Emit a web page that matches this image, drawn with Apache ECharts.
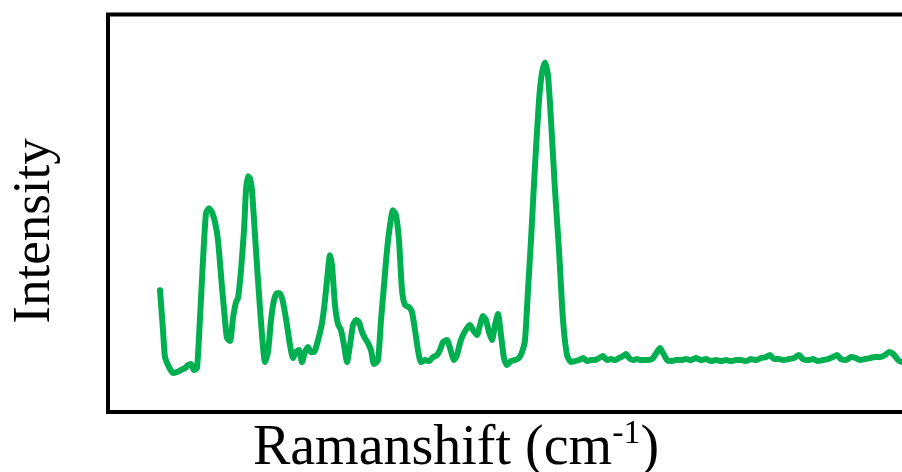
<!DOCTYPE html>
<html>
<head>
<meta charset="utf-8">
<script src="https://cdn.jsdelivr.net/npm/echarts@6/dist/echarts.min.js"></script>
<style>html,body{margin:0;padding:0;background:#fff;}#c{width:902px;height:472px;}</style>
</head>
<body>
<div id="c"></div>
<script>
// Raman shift (arbitrary units, no tick labels in the reference)
var shift = [160,163,165,169,173,177,181,185,188,191,194,197,200,203,206,209,212,215,218,222,225,227,230,233,236,238,241,244,246,248,250,252,255,258,262,265,268,271,274,277,280,283,287,290,293,296,299,302,305,308,311,314,318,322,325,328,330,332,335,338,341,344,347,350,353,356,359,362,365,368,371,374,378,381,384,387,390,393,396,399,402,405,409,412,415,418,421,425,429,433,437,440,443,447,450,454,457,460,463,467,470,473,477,480,483,486,489,492,495,498,501,504,507,511,515,519,522,525,528,531,535,539,542,545,548,551,555,559,563,567,571,575,579,583,587,591,595,599,603,607,611,615,619,623,626,629,633,637,641,645,649,653,657,660,663,667,671,676,681,686,691,696,701,706,711,716,721,726,731,736,741,746,751,756,761,766,770,774,779,784,789,794,799,803,808,813,818,823,828,833,837,841,846,851,856,860,865,870,875,880,885,889,892,895,898,902,910];
// Intensity (arbitrary units)
var intensity = [122,82,55,45,39,40,42,44,47,48,42,44,94,152,199,204,200,190,172,125,92,74,71,94,110,114,142,182,222,236,234,222,177,132,77,50,60,92,112,119,119,110,87,67,54,60,62,50,60,65,60,60,72,89,112,142,157,147,107,88,82,67,50,67,87,92,90,80,74,69,62,48,52,92,127,162,187,202,197,172,122,107,105,100,82,62,50,52,51,55,57,62,70,72,64,52,57,69,77,84,87,82,77,87,96,92,80,72,87,98,77,54,47,51,52,54,60,72,122,172,247,312,340,350,337,292,222,162,92,57,50,51,52,54,51,52,52,54,56,52,53,52,54,56,58,54,52,53,52,52,52,54,60,64,59,52,51,52,52,53,52,54,52,53,51,52,51,52,51,52,52,51,53,52,54,55,57,53,53,52,53,54,57,53,52,53,51,52,53,55,57,53,52,55,54,52,53,54,55,55,57,60,59,56,52,50,51];
var xLabel = 'Ramanshift (cm';
var xLabelSup = '-1';
var yLabel = 'Intensity';

var data = shift.map(function(s, i){ return [s, intensity[i]]; });
var chart = echarts.init(document.getElementById('c'));
chart.setOption({
  animation: false,
  backgroundColor: '#fff',
  grid: {left: 108, top: 14.5, width: 820, bottom: 60, outerBoundsMode: 'none', containLabel: false, show: true, borderColor: '#000', borderWidth: 4, backgroundColor: 'transparent'},
  xAxis: {type: 'value', min: 108, max: 928, axisLine: {show: false}, axisTick: {show: false}, axisLabel: {show: false}, splitLine: {show: false}},
  yAxis: {type: 'value', min: 0, max: 398, axisLine: {show: false}, axisTick: {show: false}, axisLabel: {show: false}, splitLine: {show: false}},
  series: [{type: 'line', data: data, showSymbol: false, smooth: 0.2, clip: true,
    lineStyle: {color: '#00b050', width: 6, join: 'round', cap: 'round'}, z: 1}],
  graphic: [
    {type: 'text', x: 35, y: 231, rotation: Math.PI / 2,
      style: {text: yLabel, fill: '#000', font: '53px "Liberation Serif", serif', align: 'center', verticalAlign: 'middle'}},
    {type: 'text', x: 456, y: 447,
      style: {text: '{m|' + xLabel + '}{s|' + xLabelSup + '}{m|)}', align: 'center', verticalAlign: 'middle',
        rich: {
          m: {fontFamily: '"Liberation Serif", serif', fontSize: 56, fill: '#000', color: '#000', lineHeight: 60, verticalAlign: 'bottom'},
          s: {fontFamily: '"Liberation Serif", serif', fontSize: 34, fill: '#000', color: '#000', lineHeight: 60, verticalAlign: 'top'}
        }}}
  ]
});
</script>
</body>
</html>
